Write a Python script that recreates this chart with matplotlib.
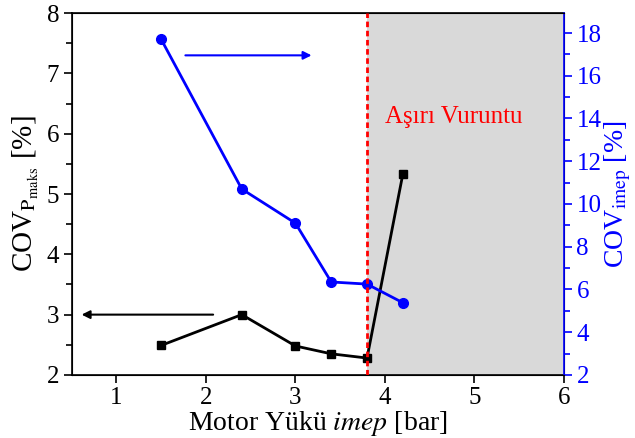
import matplotlib
matplotlib.use("Agg")
import matplotlib.pyplot as plt

# data
imep = [1.5, 2.4, 3.0, 3.4, 3.8, 4.2]
cov_pmaks = [2.49, 3.0, 2.48, 2.35, 2.28, 5.33]
cov_imep = [17.7, 10.7, 9.1, 6.35, 6.25, 5.38]
knock_start = 3.8
knock_label = "Aşırı Vuruntu"

plt.rcParams["font.family"] = ["Liberation Serif", "DejaVu Serif"]
plt.rcParams["mathtext.fontset"] = "stix"

fig = plt.figure(figsize=(6.35, 4.38), dpi=100)
ax1 = fig.add_subplot(111)
fig.subplots_adjust(left=0.113, right=0.888, top=0.970, bottom=0.144)
ax2 = ax1.twinx()

ax1.axvspan(knock_start, 6, color="#d9d9d9", zorder=0, lw=0)
ax1.plot(imep, cov_pmaks, color="black", lw=2, marker="s", ms=5.5, zorder=3)
ax2.plot(imep, cov_imep, color="blue", lw=2, marker="o", ms=7, zorder=3)
ax2.axvline(knock_start, color="red", ls=(0, (2, 1.3)), lw=2, zorder=5)

# direction arrows
ax1.annotate("", xy=(3.18, 7.3), xytext=(1.77, 7.3),
             arrowprops=dict(arrowstyle="-|>", color="blue", lw=1.5,
                             mutation_scale=12, shrinkA=0, shrinkB=0))
ax1.annotate("", xy=(0.61, 3.0), xytext=(2.08, 3.0),
             arrowprops=dict(arrowstyle="-|>", color="black", lw=1.5,
                             mutation_scale=12, shrinkA=0, shrinkB=0))

ax1.text(4.0, 6.28, knock_label, color="red", fontsize=18, va="center", ha="left")

ax1.set_xlim(0.5, 6)
ax1.set_ylim(2, 8)
ax2.set_ylim(2, 18.93)

ax1.set_xticks([1, 2, 3, 4, 5, 6])
ax1.set_yticks([2, 3, 4, 5, 6, 7, 8])
ax1.set_yticks([2.5, 3.5, 4.5, 5.5, 6.5, 7.5], minor=True)
ax2.set_yticks([2, 4, 6, 8, 10, 12, 14, 16, 18])
ax2.set_yticks([3, 5, 7, 9, 11, 13, 15, 17], minor=True)

ax1.tick_params(axis="both", which="major", direction="out", length=6, width=1.2,
                labelsize=18, pad=3)
ax1.tick_params(axis="y", which="minor", direction="out", length=4, width=1.2)
ax2.tick_params(axis="y", which="major", direction="out", length=6, width=1.2,
                labelsize=18, colors="blue", pad=3)
ax2.tick_params(axis="y", which="minor", direction="out", length=4, width=1.2, colors="blue")

for s in ["left", "bottom", "top"]:
    ax1.spines[s].set_linewidth(1.2)
ax2.spines["right"].set_color("blue")
ax2.spines["right"].set_linewidth(1.2)

ax1.set_xlabel("Motor Yükü $\\it{imep}$ [bar]", fontsize=20, labelpad=0)
ax1.set_ylabel("COV$_{\\mathrm{P}_{\\mathrm{maks}}}$ [%]", fontsize=21, labelpad=4)
ax2.set_ylabel("COV$_{\\mathrm{imep}}$ [%]", fontsize=20, color="blue", labelpad=1)

fig.savefig("out.png", dpi=100)
